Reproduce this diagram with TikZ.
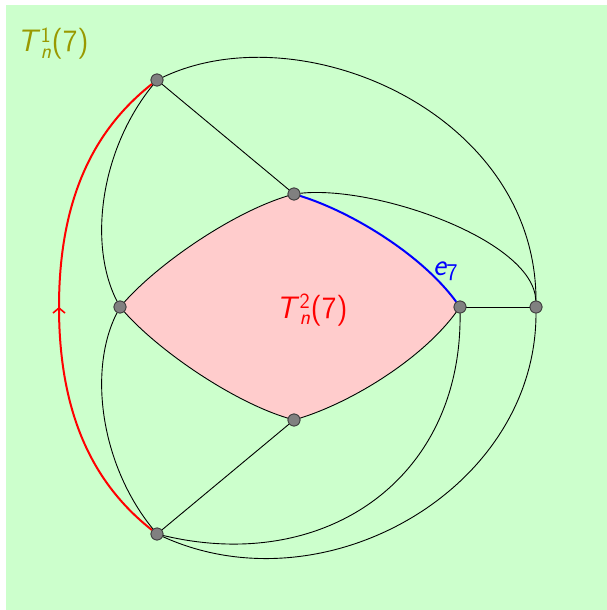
\documentclass[tikz,border=0pt]{standalone}
\usepackage{amsmath}
\usetikzlibrary{arrows.meta,decorations.markings}
\definecolor{bggreen}{HTML}{CCFFCC}
\definecolor{lenspink}{HTML}{FFCCCC}
\definecolor{olivelbl}{HTML}{999900}
\tikzset{
  vtx/.style={circle, fill=black!50, draw=black!75, line width=0.8pt, inner sep=0pt, minimum size=12pt},
  edge/.style={draw=black, line width=0.9pt},
  rededge/.style={draw=red, line width=2pt},
  blueedge/.style={draw=blue, line width=2pt},
  lbl/.style={inner sep=0pt, anchor=base west, font=\sffamily\fontsize{31}{34}\selectfont},
  midarrow/.style={postaction={decorate}, decoration={markings, mark=at position 0.5 with {\arrow[red, line width=1.6pt]{Straight Barb[length=5pt,width=12pt]}}}}
}
\begin{document}
\begin{tikzpicture}[x=1pt, y=-1pt]
\useasboundingbox (0,0) rectangle (607,610);
\fill[bggreen] (6,5) rectangle (607,610);
% vertex positions
\coordinate (A0) at (157,80);
\coordinate (B0) at (294,194);
\coordinate (C0) at (120,307);
\coordinate (D0) at (460,307);
\coordinate (E0) at (536,307);
\coordinate (F0) at (294,420);
\coordinate (G0) at (157,534);
\coordinate (M) at (59,307);
% lens fill
\fill[lenspink] (C0) .. controls (160,262) and (234,212) .. (B0)
  .. controls (352,212) and (422,255) .. (D0)
  .. controls (422,359) and (352,402) .. (F0)
  .. controls (234,402) and (160,352) .. (C0) -- cycle;
\node[vtx] (A) at (A0) {};
\node[vtx] (B) at (B0) {};
\node[vtx] (C) at (C0) {};
\node[vtx] (D) at (D0) {};
\node[vtx] (E) at (E0) {};
\node[vtx] (F) at (F0) {};
\node[vtx] (G) at (G0) {};
% edges
\draw[edge] (C) .. controls (160,262) and (234,212) .. (B);
\draw[blueedge] (B) .. controls (352,212) and (422,255) .. (D);
\draw[edge] (D) .. controls (422,359) and (352,402) .. (F);
\draw[edge] (F) .. controls (234,402) and (160,352) .. (C);
\draw[edge] (A) -- (B);
\draw[edge] (G) -- (F);
\draw[edge] (D) -- (E);
\draw[edge] (A) .. controls (100,150) and (88,245) .. (C);
\draw[edge] (C) .. controls (88,369) and (100,464) .. (G);
\draw[edge] (A) .. controls (300,12) and (536,112) .. (E);
\draw[edge] (B) .. controls (375,185) and (534,240) .. (E);
\draw[edge] (D) .. controls (462,480) and (324,574) .. (G);
\draw[edge] (E) .. controls (536,490) and (324,610) .. (G);
\draw[rededge, midarrow] (G) .. controls (100,489) and (59,424) .. (M)
  .. controls (59,190) and (100,125) .. (A);
% vertices on top
\foreach \v in {A,B,C,D,E,F,G} \node[vtx] at (\v0) {};
% labels
\node[lbl, text=olivelbl] (l1) at (17,52) {\textit{T}$^{\textup{1}}_{\textit{n}}$(7)};
\node[lbl, text=red] (l2) at (276,318) {\textit{T}$^{\textup{2}}_{\textit{n}}$(7)};
\node[lbl, text=blue] (l3) at (433,275) {\textit{e}\kern-1pt\raisebox{-5pt}{\fontsize{24}{24}\selectfont 7}};
\end{tikzpicture}
\end{document}
